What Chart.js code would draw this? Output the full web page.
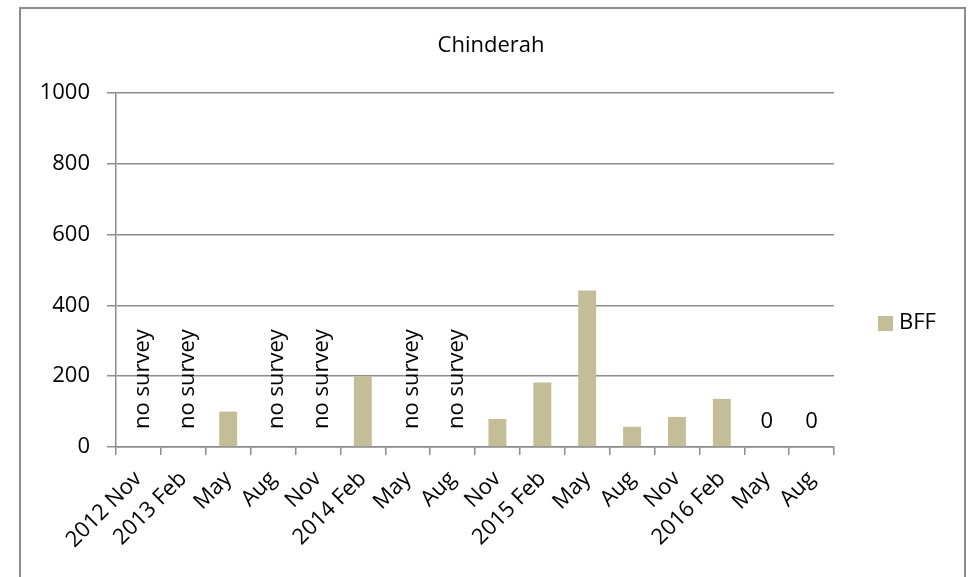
<!DOCTYPE html>
<html>
<head>
<meta charset="utf-8">
<title>Chinderah</title>
<script src="https://cdn.jsdelivr.net/npm/chart.js@4.4.1/dist/chart.umd.min.js"></script>
<style>
  html, body { margin: 0; padding: 0; background: #fff; }
  #wrap { width: 968px; height: 577px; }
</style>
</head>
<body>
<div id="wrap"><canvas id="chart" width="968" height="577"></canvas></div>
<script>
// Data
const categories = ["2012 Nov", "2013 Feb", "May", "Aug", "Nov", "2014 Feb", "May", "Aug",
  "Nov", "2015 Feb", "May", "Aug", "Nov", "2016 Feb", "May", "Aug"];
const bffValues = [null, null, 100, null, null, 200, null, null, 79, 182, 442, 57, 85, 136, 0, 0];
const pointNotes = ["no survey", "no survey", "", "no survey", "no survey", "", "no survey", "no survey",
  "", "", "", "", "", "", "0", "0"];
const yTicks = [0, 200, 400, 600, 800, 1000];
const seriesName = "BFF";
const chartTitle = "Chinderah";

const barColor = "#c4bd97";
const gridColor = "#8c8c8c";
const fontFamily = "'Open Sans', sans-serif";

// Frame, title, legend and point notes
const decorations = {
  id: "decorations",
  beforeDraw(chart) {
    const ctx = chart.ctx;
    ctx.save();
    ctx.strokeStyle = gridColor;
    ctx.lineWidth = 2;
    ctx.beginPath();
    ctx.moveTo(20, 577);
    ctx.lineTo(20, 8);
    ctx.lineTo(965, 8);
    ctx.lineTo(965, 577);
    ctx.stroke();
    ctx.restore();
  },
  afterDatasetsDraw(chart) {
    const ctx = chart.ctx;
    const x = chart.scales.x;
    const y = chart.scales.y;
    const base = y.getPixelForValue(0);

    ctx.save();
    ctx.fillStyle = "#000";
    ctx.font = "22px " + fontFamily;

    // title
    ctx.textAlign = "center";
    ctx.textBaseline = "middle";
    ctx.fillText(chartTitle, 491, 46);

    // notes above the axis
    pointNotes.forEach((note, i) => {
      if (!note) return;
      const px = x.getPixelForValue(i);
      if (note === "0") {
        ctx.textAlign = "center";
        ctx.textBaseline = "bottom";
        ctx.fillText(note, px, base - 14);
      } else {
        ctx.save();
        ctx.translate(px + 4, base - 18);
        ctx.rotate(-Math.PI / 2);
        ctx.textAlign = "left";
        ctx.textBaseline = "middle";
        ctx.fillText(note, 0, 0);
        ctx.restore();
      }
    });

    // legend
    ctx.fillStyle = barColor;
    ctx.fillRect(878, 316, 15, 15);
    ctx.fillStyle = "#000";
    ctx.textAlign = "left";
    ctx.textBaseline = "middle";
    ctx.fillText(seriesName, 899, 323);
    ctx.restore();
  }
};

const ctx = document.getElementById("chart").getContext("2d");
new Chart(ctx, {
  type: "bar",
  data: {
    labels: categories,
    datasets: [{
      label: seriesName,
      data: bffValues,
      backgroundColor: barColor,
      borderWidth: 0,
      barPercentage: 0.4,
      categoryPercentage: 1
    }]
  },
  options: {
    responsive: false,
    animation: false,
    layout: { padding: { left: 0, right: 134, top: 93, bottom: 0 } },
    plugins: {
      legend: { display: false },
      title: { display: false },
      tooltip: { enabled: false }
    },
    scales: {
      x: {
        grid: {
          display: true,
          offset: true,
          drawOnChartArea: false,
          drawTicks: true,
          tickLength: 8,
          color: gridColor,
          lineWidth: 1.5
        },
        border: { display: true, color: gridColor, width: 1.5 },
        ticks: {
          color: "#000",
          font: { family: fontFamily, size: 22 },
          minRotation: 45,
          maxRotation: 45,
          autoSkip: false,
          padding: 11
        },
        afterFit(scale) { scale.height = 130; }
      },
      y: {
        min: 0,
        max: 1000,
        afterBuildTicks(scale) { scale.ticks = yTicks.map(v => ({ value: v })); },
        grid: {
          color: gridColor,
          lineWidth: 1.5,
          tickLength: 9
        },
        border: { display: true, color: gridColor, width: 1.5 },
        ticks: {
          color: "#000",
          font: { family: fontFamily, size: 22 },
          padding: 17,
          callback: v => String(v)
        },
        afterFit(scale) { scale.width = 116; }
      }
    }
  },
  plugins: [decorations]
});
</script>
</body>
</html>
